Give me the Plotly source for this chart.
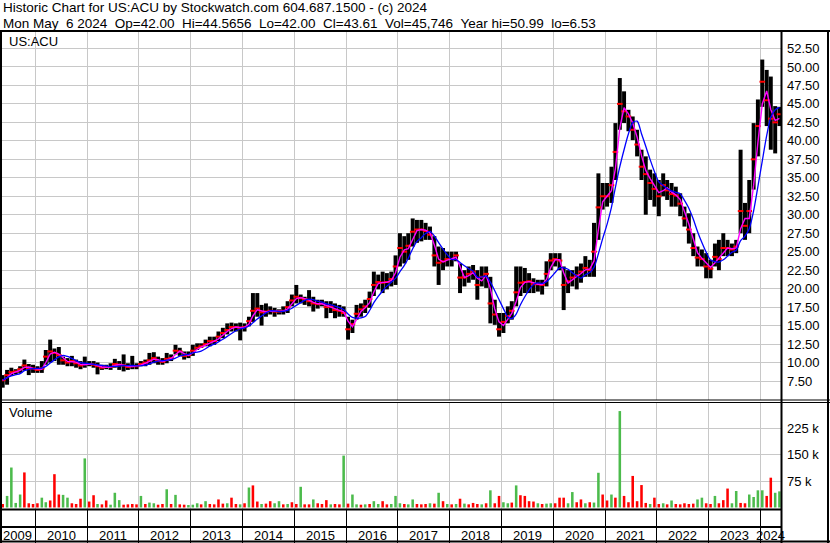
import pandas as pd
import plotly.graph_objects as go

# monthly bars, May 2009 .. May 2024
high = [
    8.3, 9.0, 9.3, 9.1, 9.5, 10.4, 9.8, 9.7,
    9.5, 10.2, 11.7, 13.1, 11.9, 12.1, 10.8, 10.6, 10.9, 10.4, 10.2, 10.8,
    10.2, 10.2, 10.0, 9.7, 9.7, 9.9, 10.5, 10.2, 11.1, 9.9, 10.9, 9.9,
    10.2, 10.4, 11.3, 11.4, 10.8, 10.6, 11.3, 11.1, 12.4, 12.0, 11.5, 11.5,
    12.4, 12.6, 12.6, 13.1, 13.5, 13.5, 14.2, 14.7, 15.3, 15.4, 15.3, 15.4,
    15.3, 16.2, 19.4, 19.4, 17.8, 18.0, 17.6, 17.4, 17.2, 17.6, 18.3, 19.2,
    20.5, 19.2, 18.9, 19.8, 18.9, 18.5, 18.5, 18.3, 18.3, 18.0, 17.8, 17.6,
    16.2, 15.8, 17.8, 18.0, 18.5, 19.6, 22.3, 21.9, 22.3, 22.1, 22.3, 24.5,
    27.5, 27.1, 27.5, 29.5, 29.3, 29.3, 28.9, 28.4, 27.1, 25.7, 25.5, 25.0,
    25.0, 25.0, 23.4, 22.5, 23.0, 23.2, 22.5, 23.0, 23.0, 21.6, 18.5, 16.7,
    16.7, 17.6, 18.3, 23.0, 23.0, 22.8, 22.1, 21.4, 21.2, 21.2, 23.7, 24.8,
    24.8, 24.8, 23.0, 22.5, 22.5, 23.0, 23.4, 24.4, 23.9, 28.9, 35.6, 34.3,
    34.3, 36.5, 42.4, 48.5, 46.7, 44.2, 43.3, 41.5, 38.8, 37.9, 36.1, 35.6,
    34.7, 35.6, 34.7, 34.3, 33.8, 32.9, 31.1, 30.2, 27.5, 25.7, 25.3, 24.8,
    23.9, 26.1, 26.6, 27.5, 26.6, 26.1, 26.6, 38.8, 31.6, 34.7, 42.4, 45.6,
    51.0, 49.6, 48.7, 44.7, 44.6,
]
low = [
    6.6, 7.0, 8.2, 8.4, 8.6, 8.9, 8.3, 8.6,
    8.6, 8.6, 9.7, 10.0, 10.2, 9.7, 9.7, 9.5, 9.5, 9.3, 9.1, 9.3,
    9.5, 9.3, 8.4, 9.0, 9.1, 9.0, 9.3, 9.0, 8.8, 9.0, 9.1, 9.1,
    9.5, 9.5, 9.7, 9.9, 9.7, 9.7, 9.9, 10.2, 11.1, 10.9, 10.4, 10.6,
    10.9, 11.7, 12.0, 12.2, 12.2, 12.4, 12.9, 13.3, 13.8, 14.2, 14.2, 13.0,
    14.2, 14.9, 15.5, 16.2, 15.0, 16.2, 16.5, 16.2, 16.5, 16.5, 16.7, 17.6,
    18.0, 18.0, 17.8, 17.6, 16.9, 17.3, 17.6, 16.0, 16.7, 16.0, 16.2, 16.2,
    13.1, 14.0, 15.8, 16.2, 16.7, 17.4, 19.0, 19.9, 19.4, 19.9, 20.3, 20.5,
    23.0, 23.4, 23.9, 25.7, 26.2, 26.4, 26.6, 26.6, 23.0, 20.5, 22.5, 23.0,
    23.0, 23.7, 19.4, 20.3, 20.8, 21.2, 18.5, 20.3, 20.1, 15.3, 15.1, 13.5,
    14.0, 15.3, 15.8, 17.6, 19.0, 19.4, 19.4, 19.4, 19.6, 19.2, 20.3, 22.5,
    23.0, 22.5, 17.1, 19.4, 20.3, 19.9, 20.8, 21.6, 21.6, 21.6, 26.6, 30.7,
    31.1, 31.6, 34.7, 41.5, 42.4, 41.3, 40.1, 37.9, 34.7, 30.0, 32.0, 31.1,
    29.8, 32.5, 32.0, 31.1, 31.1, 29.8, 28.4, 26.1, 24.4, 23.0, 23.0, 21.4,
    21.4, 23.0, 22.5, 24.4, 24.4, 24.4, 24.8, 27.5, 26.6, 27.5, 33.4, 37.9,
    44.6, 42.0, 38.8, 38.3, 42.0,
]
close = [
    7.6, 8.3, 8.7, 8.8, 9.1, 9.6, 9.2, 9.2,
    9.0, 9.2, 10.8, 11.5, 11.3, 11.0, 10.3, 10.0, 10.2, 9.9, 9.6, 9.8,
    9.8, 9.7, 9.5, 9.3, 9.4, 9.4, 9.8, 9.7, 9.6, 9.4, 9.5, 9.5,
    9.8, 10.0, 10.3, 10.6, 10.2, 10.1, 10.5, 10.6, 11.6, 11.5, 10.9, 11.0,
    11.6, 12.0, 12.2, 12.5, 12.9, 12.9, 13.5, 14.0, 14.4, 14.8, 14.8, 14.7,
    14.8, 15.6, 17.0, 17.3, 16.8, 16.9, 17.0, 16.9, 16.9, 17.0, 17.5, 18.4,
    18.9, 18.7, 18.6, 18.3, 18.0, 17.9, 18.0, 17.5, 17.6, 17.1, 17.0, 16.7,
    14.5, 15.2, 16.6, 17.2, 17.6, 18.6, 20.5, 20.9, 20.8, 20.9, 21.3, 23.0,
    25.5, 25.0, 25.8, 27.7, 28.0, 28.0, 27.8, 27.3, 24.5, 23.5, 23.7, 24.0,
    24.0, 24.5, 21.5, 21.5, 22.0, 22.3, 20.5, 21.6, 22.0, 18.0, 16.5, 14.5,
    15.5, 16.3, 17.0, 19.5, 20.8, 20.9, 21.0, 20.6, 20.6, 20.5, 22.0, 23.8,
    24.0, 23.8, 20.5, 21.0, 21.5, 21.8, 22.3, 22.8, 22.5, 25.0, 31.0, 32.5,
    32.5, 34.0, 38.5, 45.0, 44.0, 43.3, 41.5, 39.5, 36.5, 35.5, 34.3, 33.5,
    32.5, 34.0, 33.3, 32.8, 32.6, 31.5, 29.5, 28.0, 25.5, 24.2, 24.0, 23.0,
    22.7, 24.3, 24.0, 25.5, 25.5, 25.3, 25.7, 30.5, 28.5, 30.5, 37.5, 42.0,
    48.0, 45.5, 43.0, 42.5, 43.6,
]
volume_k = [
    10, 33, 114, 13, 37, 100, 12, 10,
    12, 28, 15, 20, 95, 37, 36, 28, 12, 10, 25, 140,
    17, 35, 10, 9, 20, 8, 42, 21, 8, 9, 10, 9,
    33, 10, 14, 12, 8, 10, 52, 10, 36, 9, 8, 7,
    8, 12, 9, 18, 10, 9, 23, 11, 12, 28, 10, 9,
    12, 57, 63, 17, 10, 11, 18, 12, 18, 9, 10, 15,
    10, 59, 9, 9, 23, 12, 10, 21, 9, 10, 9, 148,
    11, 37, 9, 8, 9, 10, 18, 10, 18, 9, 10, 33,
    12, 10, 9, 23, 10, 9, 10, 12, 11, 42, 18, 10,
    9, 10, 25, 11, 9, 13, 10, 9, 12, 49, 12, 33,
    15, 12, 14, 63, 35, 33, 18, 17, 12, 10, 11, 12,
    12, 28, 28, 12, 44, 15, 23, 12, 15, 14, 99, 37,
    20, 37, 28, 275, 33, 15, 90, 18, 64, 13, 10, 28,
    10, 12, 9, 20, 10, 9, 12, 10, 11, 23, 28, 12,
    10, 33, 12, 21, 54, 12, 47, 13, 12, 37, 30, 49,
    49, 33, 85, 42, 46,
]
# u = up day dominant, d = down day dominant
vol_dir = "".join([
    "duuuuddd",
    "duuddduudddu", "ddudduuudddd", "uduuddududdu", "uududddduddu",
    "duddudduudud", "dudduddduddu", "duududuudduu", "uduudddududu",
    "dudud" "ddudud" "d", "uudu" "dddd" "uduu", "dddu" "uddu" "duud",
    "dudu" "dddd" "ddud", "dudu" "dddd" "duud", "dudd" "duud" "duuu",
    "uddu" "u",
])

price_ticks = [7.5, 10, 12.5, 15, 17.5, 20, 22.5, 25, 27.5, 30, 32.5, 35,
               37.5, 40, 42.5, 45, 47.5, 50, 52.5]
vol_ticks = [75000, 150000, 225000]
vol_tick_text = ["75 k", "150 k", "225 k"]
years = list(range(2009, 2025))

months = pd.date_range("2009-05-01", "2024-05-01", freq="MS") + pd.Timedelta(days=14)
df = pd.DataFrame({"hi": high, "lo": low, "cl": close, "vol": volume_k}, index=months)
df["ma_fast"] = df["cl"].rolling(2, min_periods=1).mean()
df["ma_slow"] = df["cl"].rolling(5, min_periods=1).mean()

W, H = 830, 543
FONT = "Liberation Sans, Arial, sans-serif"
FS = 13
DAY = 86400000
x_range = [pd.Timestamp("2009-04-26"), pd.Timestamp("2024-05-26")]
PLOT_R = 781


def py(px):
    return 1 - px / H


def px_(px):
    return px / W


fig = go.Figure()
fig.add_trace(go.Bar(x=df.index, y=df["hi"] - df["lo"], base=df["lo"], width=28 * DAY,
                     marker=dict(color="black", line_width=0), xaxis="x", yaxis="y"))
fig.add_trace(go.Scatter(x=df.index, y=df["cl"], mode="markers",
                         marker=dict(symbol="line-ew", size=4, line=dict(color="#ff0000", width=2)),
                         xaxis="x", yaxis="y"))
fig.add_trace(go.Scatter(x=df.index, y=df["ma_fast"], mode="lines",
                         line=dict(color="#ff00ff", width=1.4), xaxis="x", yaxis="y"))
fig.add_trace(go.Scatter(x=df.index, y=df["ma_slow"], mode="lines",
                         line=dict(color="#0000ff", width=1.3, shape="spline", smoothing=0.8),
                         xaxis="x", yaxis="y"))
vol_colors = ["#4cbb4c" if d == "u" else "#ff0000" for d in vol_dir]
fig.add_trace(go.Bar(x=df.index, y=df["vol"] * 1000, width=18 * DAY,
                     marker=dict(color=vol_colors, line_width=0), xaxis="x2", yaxis="y2"))

grid = "#c8c8c8"
xcommon = dict(type="date", range=x_range, domain=[0, px_(PLOT_R)], dtick="M12",
               tick0="2009-01-01", showticklabels=False, zeroline=False,
               showline=False, ticks="", showgrid=True, gridwidth=1)
tickfont = dict(family=FONT, size=FS, color="#000000")

fig.update_layout(
    width=W, height=H, margin=dict(l=0, r=0, t=0, b=0),
    paper_bgcolor="white", plot_bgcolor="white", showlegend=False, barmode="overlay",
    xaxis=dict(**xcommon, anchor="y", gridcolor=grid),
    xaxis2=dict(**xcommon, anchor="y2", gridcolor=grid),
    xaxis3=dict(**xcommon, anchor="y3", gridcolor="black"),
    yaxis=dict(domain=[py(400), py(32)], range=[4.93, 54.73], side="right", anchor="x",
               tickvals=price_ticks, ticktext=[f"{v:.2f}" for v in price_ticks],
               showgrid=True, gridcolor=grid, zeroline=False, ticks="",
               ticklabelstandoff=5, tickfont=tickfont),
    yaxis2=dict(domain=[py(509), py(403)], range=[-4300, 298000], side="right", anchor="x2",
                tickvals=vol_ticks, ticktext=vol_tick_text, showgrid=True, gridcolor=grid,
                zeroline=False, ticks="", ticklabelstandoff=5, tickfont=tickfont),
    yaxis3=dict(domain=[0, py(510)], range=[0, 1], anchor="x3", showgrid=False,
                showticklabels=False, zeroline=False),
)

# frame lines
frame = [
    (0, 31, W, 31, 2), (1, 31, 1, H, 2), (W - 2, 31, W - 2, H, 2), (0, H - 1.5, W, H - 1.5, 2),
    (PLOT_R + 0.5, 31, PLOT_R + 0.5, H, 2),
    (0, 400, W, 400, 1), (0, 402.5, W, 402.5, 1),
    (0, 509.5, PLOT_R, 509.5, 2), (0, 527, PLOT_R, 527, 2),
]
for x0, y0, x1, y1, w in frame:
    fig.add_shape(type="line", xref="paper", yref="paper", x0=px_(x0), x1=px_(x1),
                  y0=py(y0), y1=py(y1), line=dict(color="black", width=w))

titles = [
    ("Historic Chart for US:ACU by Stockwatch.com 604.687.1500 - (c) 2024", 2, 8, 13.5),
    ("Mon May\u00a0\u00a06 2024\u00a0\u00a0Op=42.00\u00a0\u00a0Hi=44.5656\u00a0\u00a0Lo=42.00"
     "\u00a0\u00a0Cl=43.61\u00a0\u00a0Vol=45,746\u00a0\u00a0Year hi=50.99\u00a0\u00a0lo=6.53",
     2, 23, 13.5),
    ("US:ACU", 8, 41, FS),
    ("Volume", 8, 413, FS),
]
for text, x, y, size in titles:
    fig.add_annotation(text=text, xref="paper", yref="paper", x=px_(x), y=py(y),
                       xanchor="left", yanchor="middle", showarrow=False, borderpad=0,
                       font=dict(family=FONT, size=size, color="#000000"))

for yr in years:
    a = max(pd.Timestamp(f"{yr}-01-01"), x_range[0])
    b = min(pd.Timestamp(f"{yr + 1}-01-01"), x_range[1])
    fig.add_annotation(text=str(yr), xref="x3", yref="paper", x=a + (b - a) / 2, y=py(535),
                       xanchor="center", yanchor="middle", showarrow=False, borderpad=0,
                       font=dict(family=FONT, size=FS, color="#000000"))

fig.write_html("out.html", config={"displayModeBar": False},
               post_script="document.body.style.margin='0';")
